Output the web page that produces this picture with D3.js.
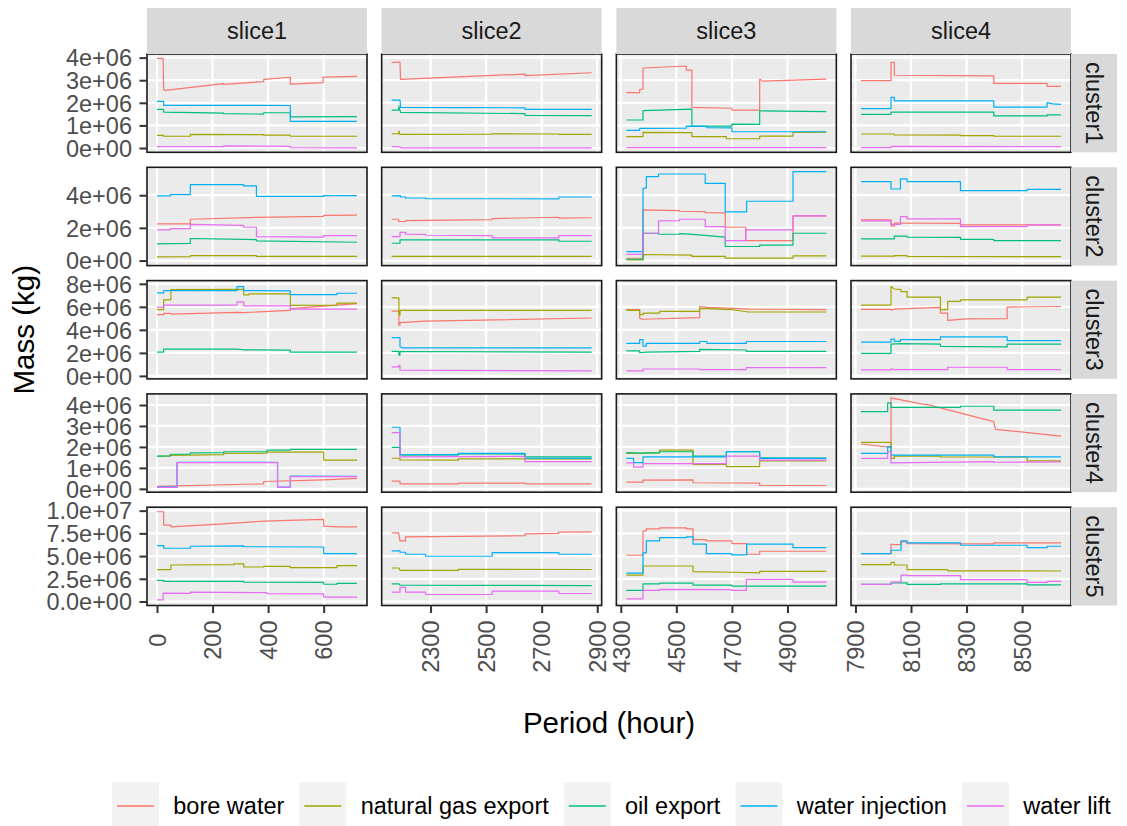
<!DOCTYPE html>
<html>
<head>
<meta charset="utf-8">
<script src="https://cdn.jsdelivr.net/npm/d3@7"></script>
<style>
  html, body { margin: 0; padding: 0; background: #ffffff; }
  svg { display: block; }
</style>
</head>
<body>
<script>
// Facets
const slices = ["slice1", "slice2", "slice3", "slice4"];
const clusters = ["cluster1", "cluster2", "cluster3", "cluster4", "cluster5"];
const seriesNames = ["bore water", "natural gas export", "oil export", "water injection", "water lift"];
const seriesColors = ["#F8766D", "#A3A500", "#00BF7D", "#00B0F6", "#E76BF3"];

// Axis ticks (x in hours, y in millions of kg)
const xTicks = [[0, 200, 400, 600], [2300, 2500, 2700, 2900], [4300, 4500, 4700, 4900], [7900, 8100, 8300, 8500]];
const yTicks = [[0, 1, 2, 3, 4], [0, 2, 4], [0, 2, 4, 6, 8], [0, 1, 2, 3, 4], [0, 2.5, 5, 7.5, 10]];
const yTickLabels = [
  ["0e+00", "1e+06", "2e+06", "3e+06", "4e+06"],
  ["0e+00", "2e+06", "4e+06"],
  ["0e+00", "2e+06", "4e+06", "6e+06", "8e+06"],
  ["0e+00", "1e+06", "2e+06", "3e+06", "4e+06"],
  ["0.0e+00", "2.5e+06", "5.0e+06", "7.5e+06", "1.0e+07"]
];
// y limits per cluster row (millions of kg)
const yLimits = [[-0.19, 4.16], [-0.31, 5.71], [-0.26, 8.28], [-0.16, 4.53], [-0.44, 10.38]];

// Series: [cluster][slice] -> [[hour, mass (1e6 kg)], ...]
const boreWater = [
  [
    [[0,3.97],[22,3.97],[24,2.57],[30,2.55],[240,2.85],[240,2.82],[384,2.94],[384,3.04],[480,3.13],[480,2.83],[598,2.89],[598,3.14],[720,3.17]],
    [[2160,3.78],[2178,3.80],[2190,3.80],[2192,3.04],[2400,3.15],[2640,3.27],[2640,3.20],[2880,3.33]],
    [[4320,2.45],[4368,2.45],[4368,2.60],[4380,2.60],[4380,3.54],[4536,3.63],[4536,3.45],[4556,3.45],[4556,1.80],[4700,1.76],[4700,1.68],[4800,1.68],[4800,3.05],[4810,2.96],[5040,3.05]],
    [[7920,2.98],[8028,2.98],[8028,3.79],[8040,3.79],[8040,3.22],[8398,3.19],[8398,2.86],[8590,2.86],[8590,2.73],[8640,2.73]]
  ],
  [
    [[0,2.24],[120,2.24],[120,2.53],[358,2.64],[600,2.70],[600,2.77],[720,2.78]],
    [[2160,2.53],[2185,2.53],[2185,2.39],[2210,2.39],[2210,2.45],[2522,2.50],[2522,2.57],[2762,2.65],[2762,2.60],[2880,2.62]],
    [[4320,0.14],[4380,0.14],[4380,3.10],[4512,3.06],[4512,3.02],[4604,3.00],[4604,2.94],[4676,2.92],[4676,2.04],[4750,2.04],[4750,1.22],[4920,1.22],[4920,2.73],[5040,2.73]],
    [[7920,2.49],[8028,2.49],[8028,2.12],[8040,2.12],[8040,2.30],[8278,2.28],[8278,2.18],[8640,2.18]]
  ],
  [
    [[0,5.32],[24,5.32],[24,5.43],[50,5.43],[50,5.37],[288,5.52],[312,5.50],[480,5.70],[480,5.85],[720,6.28]],
    [[2160,5.63],[2186,5.63],[2186,4.40],[2190,4.40],[2190,4.63],[2280,4.76],[2880,5.03]],
    [[4320,5.75],[4368,5.75],[4368,5.00],[4380,4.92],[4584,5.06],[4584,6.03],[4610,5.95],[4680,5.89],[4760,5.80],[5040,5.75]],
    [[7920,5.78],[8028,5.78],[8028,5.70],[8040,5.80],[8206,5.95],[8206,5.46],[8232,5.46],[8232,4.83],[8300,4.95],[8446,4.97],[8446,5.98],[8640,6.03]]
  ],
  [
    [[0,0.12],[384,0.24],[384,0.35],[600,0.43],[720,0.50]],
    [[2160,0.37],[2190,0.37],[2190,0.24],[2400,0.24],[2400,0.27],[2640,0.27],[2640,0.24],[2880,0.24]],
    [[4320,0.32],[4380,0.32],[4380,0.42],[4560,0.43],[4560,0.29],[4800,0.27],[4800,0.16],[5040,0.16]],
    [[7920,2.14],[8028,1.98],[8028,4.34],[8150,4.02],[8160,4.02],[8398,3.21],[8404,2.84],[8640,2.52]]
  ],
  [
    [[0,9.88],[24,9.88],[24,8.41],[50,8.41],[50,8.22],[240,8.55],[384,8.85],[600,9.05],[600,8.30],[650,8.22],[720,8.22]],
    [[2160,7.56],[2185,7.56],[2190,6.67],[2210,6.67],[2210,7.12],[2640,7.25],[2640,7.45],[2760,7.49],[2760,7.63],[2880,7.67]],
    [[4320,5.09],[4380,5.09],[4380,7.74],[4392,7.80],[4392,8.00],[4440,8.00],[4440,8.11],[4536,8.11],[4536,8.00],[4560,8.00],[4560,6.82],[4608,6.82],[4608,6.67],[4700,6.67],[4700,6.38],[4753,6.38],[4753,5.20],[4800,5.20],[4800,5.53],[5040,5.53]],
    [[7920,5.27],[8028,5.27],[8028,6.31],[8040,6.25],[8064,6.25],[8064,6.56],[8086,6.56],[8086,6.38],[8398,6.35],[8398,6.45],[8640,6.45]]
  ]
];

const naturalGasExport = [
  [
    [[0,0.56],[24,0.56],[24,0.52],[120,0.52],[120,0.60],[384,0.59],[384,0.57],[480,0.57],[480,0.53],[720,0.52]],
    [[2160,0.63],[2185,0.63],[2186,0.75],[2190,0.60],[2520,0.61],[2520,0.63],[2760,0.62],[2760,0.60],[2880,0.60]],
    [[4320,0.50],[4380,0.50],[4380,0.69],[4556,0.68],[4556,0.50],[4680,0.50],[4680,0.41],[4800,0.41],[4800,0.53],[4920,0.53],[4920,0.69],[5040,0.70]],
    [[7920,0.62],[8040,0.62],[8040,0.58],[8278,0.57],[8278,0.55],[8398,0.55],[8398,0.52],[8640,0.52]]
  ],
  [
    [[0,0.22],[120,0.24],[120,0.30],[358,0.30],[358,0.25],[720,0.25]],
    [[2160,0.25],[2880,0.25]],
    [[4320,0.04],[4380,0.04],[4380,0.37],[4556,0.33],[4556,0.25],[4676,0.25],[4676,0.15],[4920,0.15],[4920,0.29],[5040,0.29]],
    [[7920,0.27],[8040,0.27],[8040,0.31],[8086,0.30],[8086,0.25],[8640,0.24]]
  ],
  [
    [[0,5.75],[24,5.75],[24,6.61],[50,6.61],[50,7.50],[312,7.52],[312,7.04],[330,7.04],[330,7.13],[480,7.13],[480,6.12],[648,6.15],[648,6.32],[720,6.32]],
    [[2160,6.78],[2186,6.78],[2186,5.30],[2190,5.30],[2190,5.69],[2880,5.69]],
    [[4320,5.69],[4368,5.69],[4368,5.32],[4380,5.32],[4380,5.46],[4440,5.46],[4440,5.60],[4584,5.60],[4584,5.86],[4700,5.75],[4760,5.55],[5040,5.55]],
    [[7920,6.15],[8028,6.15],[8028,7.76],[8040,7.55],[8064,7.50],[8064,7.33],[8086,7.33],[8086,6.84],[8206,6.84],[8206,5.75],[8232,5.75],[8232,6.47],[8278,6.47],[8278,6.61],[8518,6.61],[8518,6.84],[8640,6.84]]
  ],
  [
    [[0,1.55],[48,1.57],[48,1.60],[240,1.63],[240,1.69],[396,1.70],[396,1.75],[600,1.75],[600,1.37],[720,1.37]],
    [[2160,1.46],[2190,1.46],[2190,1.38],[2400,1.37],[2400,1.43],[2880,1.43]],
    [[4320,1.69],[4380,1.70],[4380,1.72],[4440,1.72],[4440,1.85],[4560,1.85],[4560,1.17],[4680,1.17],[4680,1.06],[4800,1.06],[4800,1.33],[5040,1.33]],
    [[7920,2.22],[8028,2.22],[8028,1.45],[8040,1.45],[8040,1.56],[8206,1.56],[8206,1.52],[8518,1.52],[8518,1.33],[8640,1.33]]
  ],
  [
    [[0,3.50],[50,3.50],[50,4.02],[276,4.05],[276,4.15],[312,4.15],[312,3.80],[384,3.80],[384,3.87],[480,3.87],[480,3.72],[648,3.72],[648,3.95],[720,3.95]],
    [[2160,3.69],[2186,3.69],[2190,3.43],[2400,3.43],[2400,3.54],[2880,3.52]],
    [[4320,2.91],[4380,2.91],[4380,3.91],[4560,3.91],[4560,3.28],[4700,3.22],[4800,3.15],[4800,3.32],[5040,3.32]],
    [[7920,4.06],[8028,4.06],[8028,4.31],[8040,4.31],[8040,4.02],[8086,4.02],[8086,3.50],[8232,3.50],[8232,3.38],[8640,3.36]]
  ]
];

const oilExport = [
  [
    [[0,1.71],[24,1.71],[24,1.59],[240,1.54],[240,1.52],[384,1.50],[384,1.56],[480,1.56],[480,1.38],[720,1.39]],
    [[2160,1.68],[2185,1.68],[2186,1.85],[2192,1.58],[2640,1.52],[2640,1.44],[2880,1.43]],
    [[4320,1.24],[4380,1.24],[4380,1.65],[4556,1.72],[4556,0.97],[4700,0.97],[4700,1.06],[4800,1.05],[4800,1.64],[5040,1.61]],
    [[7920,1.49],[8028,1.49],[8028,1.59],[8398,1.59],[8398,1.42],[8590,1.42],[8590,1.47],[8640,1.47]]
  ],
  [
    [[0,1.02],[48,1.04],[120,1.05],[120,1.35],[312,1.30],[358,1.28],[358,1.20],[720,1.12]],
    [[2160,1.06],[2190,1.06],[2190,1.26],[2762,1.26],[2762,1.18],[2880,1.18]],
    [[4320,0.08],[4380,0.08],[4380,1.67],[4436,1.67],[4436,1.61],[4512,1.61],[4512,1.65],[4560,1.60],[4676,1.43],[4676,0.86],[4800,0.86],[4800,0.95],[4920,0.95],[4920,1.67],[5040,1.67]],
    [[7920,1.33],[8040,1.33],[8040,1.49],[8086,1.49],[8086,1.43],[8278,1.42],[8278,1.30],[8398,1.30],[8398,1.22],[8640,1.22]]
  ],
  [
    [[0,2.07],[24,2.07],[24,2.33],[288,2.33],[312,2.27],[480,2.24],[480,2.07],[720,2.07]],
    [[2160,2.13],[2186,2.13],[2186,1.81],[2190,1.81],[2190,2.12],[2880,2.07]],
    [[4320,2.18],[4368,2.18],[4368,2.01],[4392,2.06],[4584,2.13],[4584,2.30],[4752,2.25],[4752,2.13],[5040,2.13]],
    [[7920,1.95],[8028,1.95],[8028,2.76],[8062,2.80],[8206,2.76],[8206,2.56],[8446,2.53],[8446,2.76],[8640,2.76]]
  ],
  [
    [[0,1.56],[48,1.57],[48,1.65],[120,1.65],[120,1.72],[240,1.73],[240,1.77],[396,1.77],[396,1.85],[480,1.85],[480,1.88],[720,1.88]],
    [[2160,1.98],[2190,1.98],[2190,1.61],[2400,1.62],[2400,1.68],[2640,1.66],[2640,1.53],[2880,1.53]],
    [[4320,1.73],[4380,1.70],[4440,1.73],[4440,1.77],[4560,1.77],[4560,1.56],[4680,1.56],[4680,1.77],[4800,1.77],[4800,1.48],[5040,1.47]],
    [[7920,3.68],[8016,3.68],[8016,4.10],[8028,4.10],[8028,3.89],[8278,3.89],[8278,3.94],[8398,3.94],[8398,3.76],[8640,3.76]]
  ],
  [
    [[0,2.32],[24,2.32],[24,2.21],[312,2.21],[312,2.12],[600,2.10],[600,1.90],[648,1.90],[648,2.00],[720,2.00]],
    [[2160,1.95],[2186,1.95],[2190,1.81],[2880,1.74]],
    [[4320,1.22],[4380,1.22],[4380,1.95],[4440,1.95],[4440,2.03],[4560,2.03],[4560,1.81],[4700,1.81],[4700,1.70],[5040,1.70]],
    [[7920,1.88],[8028,1.88],[8028,2.06],[8086,2.06],[8086,1.88],[8206,1.88],[8206,1.95],[8518,1.95],[8518,1.84],[8640,1.84]]
  ]
];

const waterInjection = [
  [
    [[0,2.06],[24,2.06],[24,1.89],[480,1.88],[480,1.18],[720,1.18]],
    [[2160,2.12],[2190,2.12],[2192,1.80],[2400,1.79],[2640,1.78],[2640,1.71],[2880,1.71]],
    [[4320,0.78],[4368,0.78],[4368,0.87],[4536,0.88],[4536,0.97],[4610,0.96],[4610,0.90],[4700,0.89],[4700,0.72],[5040,0.72]],
    [[7920,1.74],[8028,1.74],[8028,2.24],[8040,2.24],[8040,2.09],[8398,2.09],[8398,1.81],[8590,1.81],[8590,2.01],[8610,1.95],[8640,1.93]]
  ],
  [
    [[0,3.96],[48,3.96],[48,4.04],[120,4.04],[120,4.65],[312,4.65],[312,4.57],[358,4.57],[358,3.93],[600,3.93],[600,3.97],[720,3.98]],
    [[2160,3.96],[2192,3.97],[2192,3.89],[2210,3.89],[2210,3.83],[2282,3.83],[2282,3.79],[2762,3.78],[2762,3.89],[2880,3.89]],
    [[4320,0.55],[4380,0.55],[4380,4.40],[4392,4.45],[4392,5.14],[4436,5.14],[4436,5.30],[4604,5.30],[4604,4.73],[4676,4.73],[4676,2.98],[4753,2.98],[4753,3.63],[4920,3.63],[4920,5.44],[5040,5.44]],
    [[7920,4.83],[8028,4.83],[8028,4.38],[8062,4.38],[8062,5.00],[8086,5.00],[8086,4.83],[8278,4.83],[8278,4.28],[8518,4.28],[8518,4.36],[8640,4.36]]
  ],
  [
    [[0,7.21],[24,7.21],[24,7.41],[288,7.41],[288,7.76],[312,7.76],[312,7.41],[480,7.39],[480,7.07],[648,7.07],[648,7.18],[720,7.18]],
    [[2160,3.33],[2190,3.33],[2190,2.53],[2200,2.44],[2880,2.44]],
    [[4320,2.82],[4368,2.82],[4368,3.16],[4380,3.16],[4380,2.59],[4392,2.59],[4392,2.82],[4584,2.82],[4584,2.99],[4610,2.99],[4610,2.82],[4752,2.82],[4752,2.99],[5040,2.99]],
    [[7920,2.93],[8028,2.93],[8028,3.19],[8040,3.19],[8040,3.00],[8062,3.00],[8062,3.15],[8206,3.15],[8206,3.39],[8446,3.39],[8446,3.07],[8640,3.07]]
  ],
  [
    [[0,0.10],[72,0.10],[72,1.27],[434,1.27],[434,0.08],[480,0.08],[480,0.61],[720,0.60]],
    [[2160,2.94],[2190,2.94],[2190,1.65],[2400,1.63],[2400,1.69],[2640,1.69],[2640,1.47],[2880,1.45]],
    [[4320,1.45],[4346,1.45],[4346,1.25],[4380,1.25],[4380,1.53],[4680,1.53],[4680,1.77],[4800,1.77],[4800,1.45],[5040,1.45]],
    [[7920,1.69],[8016,1.69],[8016,2.01],[8028,2.01],[8028,1.61],[8398,1.61],[8398,1.53],[8640,1.53]]
  ],
  [
    [[0,6.16],[24,6.16],[24,5.86],[120,5.86],[120,6.08],[312,6.12],[312,6.03],[600,6.00],[600,5.27],[720,5.27]],
    [[2160,5.57],[2190,5.57],[2190,5.42],[2210,5.42],[2210,5.20],[2282,5.20],[2282,4.98],[2522,4.98],[2522,5.38],[2762,5.38],[2762,5.20],[2880,5.20]],
    [[4320,3.13],[4380,3.13],[4380,5.35],[4392,5.35],[4392,6.67],[4440,6.67],[4440,7.04],[4536,7.04],[4536,7.12],[4560,7.12],[4560,6.31],[4608,6.31],[4608,5.27],[4700,5.27],[4700,5.13],[4753,5.13],[4753,6.31],[4920,6.31],[4920,5.94],[5040,5.94]],
    [[7920,5.27],[8028,5.27],[8028,5.64],[8064,5.64],[8064,6.67],[8086,6.67],[8086,6.45],[8278,6.45],[8278,6.19],[8518,6.19],[8518,5.94],[8590,5.94],[8590,6.08],[8640,6.08]]
  ]
];

const waterLift = [
  [
    [[0,0.06],[240,0.06],[240,0.09],[480,0.07],[480,0.02],[720,0.01]],
    [[2160,0.06],[2190,0.05],[2192,0.01],[2880,0.01]],
    [[4320,0.02],[5040,0.02]],
    [[7920,0.015],[8028,0.015],[8028,0.07],[8640,0.06]]
  ],
  [
    [[0,1.88],[48,1.88],[48,1.96],[120,1.96],[120,2.22],[312,2.15],[312,2.04],[358,2.04],[358,1.47],[600,1.43],[600,1.52],[720,1.52]],
    [[2160,1.47],[2190,1.47],[2190,1.73],[2210,1.73],[2210,1.61],[2282,1.60],[2282,1.55],[2522,1.52],[2522,1.39],[2762,1.39],[2762,1.53],[2880,1.53]],
    [[4320,0.38],[4380,0.38],[4380,1.67],[4436,1.67],[4436,2.43],[4512,2.45],[4512,2.53],[4604,2.53],[4604,2.08],[4676,2.08],[4676,1.22],[4750,1.22],[4750,1.88],[4920,1.88],[4920,2.73],[5040,2.73]],
    [[7920,2.43],[8028,2.43],[8028,2.22],[8062,2.22],[8062,2.69],[8086,2.69],[8086,2.55],[8278,2.55],[8278,2.08],[8518,2.08],[8518,2.18],[8640,2.18]]
  ],
  [
    [[0,5.98],[24,5.98],[24,6.15],[288,6.15],[288,6.44],[312,6.44],[312,6.09],[480,6.09],[480,5.80],[720,5.80]],
    [[2160,0.78],[2186,0.78],[2186,0.92],[2190,0.92],[2190,0.50],[2880,0.43]],
    [[4320,0.43],[4380,0.43],[4380,0.60],[4584,0.60],[4584,0.55],[4752,0.55],[4752,0.72],[5040,0.72]],
    [[7920,0.52],[8028,0.52],[8028,0.62],[8040,0.55],[8232,0.55],[8232,0.75],[8446,0.75],[8446,0.55],[8640,0.55]]
  ],
  [
    [[0,0.07],[72,0.07],[72,1.25],[434,1.25],[434,0.07],[480,0.07],[480,0.58],[720,0.58]],
    [[2160,2.68],[2190,2.68],[2190,1.53],[2640,1.55],[2640,1.30],[2880,1.30]],
    [[4320,1.24],[4346,1.24],[4346,1.04],[4380,1.04],[4380,1.20],[4680,1.20],[4680,1.56],[4800,1.56],[4800,1.37],[5040,1.37]],
    [[7920,1.45],[8016,1.45],[8016,1.77],[8028,1.77],[8028,1.24],[8398,1.30],[8398,1.27],[8640,1.29]]
  ],
  [
    [[0,0.18],[22,0.18],[22,0.92],[120,0.90],[120,1.03],[396,0.98],[396,0.87],[600,0.85],[600,0.48],[720,0.48]],
    [[2160,1.03],[2190,1.03],[2190,1.55],[2210,1.55],[2210,1.03],[2282,1.03],[2282,0.77],[2522,0.77],[2522,1.14],[2762,1.14],[2762,0.88],[2880,0.88]],
    [[4320,0.29],[4380,0.29],[4380,1.22],[4440,1.22],[4440,1.33],[4700,1.30],[4700,1.22],[4752,1.22],[4752,2.45],[4920,2.43],[4920,2.14],[5040,2.14]],
    [[7920,1.88],[8028,1.88],[8028,2.14],[8064,2.14],[8064,2.91],[8086,2.91],[8086,2.84],[8278,2.84],[8278,2.40],[8518,2.40],[8518,2.10],[8590,2.10],[8590,2.21],[8640,2.21]]
  ]
];

const seriesData = [boreWater, naturalGasExport, oilExport, waterInjection, waterLift];

// ---------- layout ----------
const W = 1127, H = 826;
const FONT = "'Liberation Sans', Arial, Helvetica, sans-serif";
const left0 = 147, top0 = 54;
const panelW = 220, panelH = 98.3;
const gapX = 14.67, gapY = 15;
const stripSize = 46;
const tickLen = 7.5, tickPad = 7.5;
const smallFont = 23.5, titleFont = 29.5;

const svg = d3.select("body").append("svg")
  .attr("width", W).attr("height", H)
  .style("font-family", FONT);
svg.append("rect").attr("width", W).attr("height", H).attr("fill", "#ffffff");

// x scales: free per slice column, data range expanded by 5% on each side
const xScales = slices.map((s, c) => {
  const pts = seriesData.flatMap(ser => ser.flatMap(cl => cl[c]));
  const [lo, hi] = d3.extent(pts, d => d[0]);
  const pad = (hi - lo) * 0.05;
  const px = left0 + c * (panelW + gapX);
  return d3.scaleLinear().domain([lo - pad, hi + pad]).range([px, px + panelW]);
});
// y scales: free per cluster row
const yScales = clusters.map((cl, r) => {
  const py = top0 + r * (panelH + gapY);
  return d3.scaleLinear().domain(yLimits[r]).range([py + panelH, py]);
});

const line = (x, y) => d3.line().x(d => x(d[0])).y(d => y(d[1]));

clusters.forEach((cl, r) => {
  const y = yScales[r];
  const py = top0 + r * (panelH + gapY);
  slices.forEach((sl, c) => {
    const x = xScales[c];
    const px = left0 + c * (panelW + gapX);
    const g = svg.append("g").attr("class", `panel ${cl}-${sl}`);

    g.append("rect").attr("x", px).attr("y", py).attr("width", panelW).attr("height", panelH)
      .attr("fill", "#EBEBEB");

    // major grid
    g.selectAll("line.gy").data(yTicks[r]).join("line").attr("class", "gy")
      .attr("x1", px).attr("x2", px + panelW)
      .attr("y1", d => y(d)).attr("y2", d => y(d))
      .attr("stroke", "#ffffff").attr("stroke-width", 2.2);
    g.selectAll("line.gx").data(xTicks[c]).join("line").attr("class", "gx")
      .attr("x1", d => x(d)).attr("x2", d => x(d))
      .attr("y1", py).attr("y2", py + panelH)
      .attr("stroke", "#ffffff").attr("stroke-width", 2.2);

    // series lines
    seriesData.forEach((ser, k) => {
      g.append("path")
        .datum(ser[r][c])
        .attr("d", line(x, y))
        .attr("fill", "none")
        .attr("stroke", seriesColors[k])
        .attr("stroke-width", 1.2)
        .attr("stroke-linejoin", "round");
    });

    // panel border
    g.append("rect").attr("x", px).attr("y", py).attr("width", panelW).attr("height", panelH)
      .attr("fill", "none").attr("stroke", "#1A1A1A").attr("stroke-width", 1.6);
  });

  // left axis for the row
  const ax = svg.append("g")
    .attr("transform", `translate(${left0},0)`)
    .call(d3.axisLeft(y).tickValues(yTicks[r])
      .tickFormat((d, i) => yTickLabels[r][i])
      .tickSize(tickLen).tickPadding(tickPad));
  ax.attr("font-size", null).attr("font-family", null);
  ax.select(".domain").remove();
  ax.selectAll(".tick line").attr("stroke", "#333333").attr("stroke-width", 2);
  ax.selectAll(".tick text").attr("fill", "#4D4D4D").attr("font-size", smallFont)
    .attr("dy", "0.35em");

  // right strip
  svg.append("rect").attr("x", left0 + 4 * panelW + 3 * gapX).attr("y", py)
    .attr("width", stripSize).attr("height", panelH).attr("fill", "#D9D9D9");
  svg.append("text")
    .attr("transform", `translate(${left0 + 4 * panelW + 3 * gapX + stripSize / 2},${py + panelH / 2}) rotate(90)`)
    .attr("text-anchor", "middle").attr("dy", "0.35em")
    .attr("font-size", smallFont).attr("fill", "#1A1A1A")
    .text(cl);
});

// bottom axes and top strips
const bottomY = top0 + 4 * (panelH + gapY) + panelH;
slices.forEach((sl, c) => {
  const x = xScales[c];
  const px = left0 + c * (panelW + gapX);
  const ax = svg.append("g")
    .attr("transform", `translate(0,${bottomY})`)
    .call(d3.axisBottom(x).tickValues(xTicks[c]).tickFormat(d3.format("d"))
      .tickSize(tickLen).tickPadding(tickPad));
  ax.attr("font-size", null).attr("font-family", null);
  ax.select(".domain").remove();
  ax.selectAll(".tick line").attr("stroke", "#333333").attr("stroke-width", 2);
  const texts = ax.selectAll(".tick text")
    .attr("fill", "#4D4D4D").attr("font-size", smallFont);
  let maxW = 0;
  texts.each(function () { maxW = Math.max(maxW, this.getComputedTextLength()); });
  texts.attr("x", 0).attr("y", 0).attr("dy", "0.35em").attr("text-anchor", "middle")
    .attr("transform", `translate(0,${tickLen + tickPad + maxW / 2}) rotate(-90)`);

  svg.append("rect").attr("x", px).attr("y", top0 - stripSize)
    .attr("width", panelW).attr("height", stripSize).attr("fill", "#D9D9D9");
  svg.append("text").attr("x", px + panelW / 2).attr("y", top0 - stripSize / 2)
    .attr("text-anchor", "middle").attr("dy", "0.35em")
    .attr("font-size", smallFont).attr("fill", "#1A1A1A")
    .text(sl);
});

// axis titles
const panelsMidX = (left0 + left0 + 4 * panelW + 3 * gapX) / 2;
const panelsMidY = (top0 + bottomY) / 2;
svg.append("text").attr("x", panelsMidX).attr("y", 733)
  .attr("text-anchor", "middle").attr("font-size", titleFont).attr("fill", "#000000")
  .text("Period (hour)");
svg.append("text")
  .attr("transform", `translate(33.5,${panelsMidY}) rotate(-90)`)
  .attr("text-anchor", "middle").attr("font-size", titleFont).attr("fill", "#000000")
  .text("Mass (kg)");

// legend
const keySize = 47, legendMid = 806;
const legend = svg.append("g").attr("class", "legend");
let lx = 112;
seriesNames.forEach((name, k) => {
  const item = legend.append("g");
  item.append("rect").attr("x", lx).attr("y", legendMid - keySize / 2)
    .attr("width", keySize).attr("height", keySize).attr("fill", "#F2F2F2");
  item.append("line").attr("x1", lx + 5).attr("x2", lx + keySize - 5)
    .attr("y1", legendMid).attr("y2", legendMid)
    .attr("stroke", seriesColors[k]).attr("stroke-width", 1.6);
  const t = item.append("text").attr("x", lx + keySize + 14.3).attr("y", legendMid)
    .attr("dy", "0.35em").attr("font-size", smallFont).attr("fill", "#000000")
    .text(name);
  lx = lx + keySize + 14.3 + t.node().getComputedTextLength() + 15;
});
</script>
</body>
</html>
